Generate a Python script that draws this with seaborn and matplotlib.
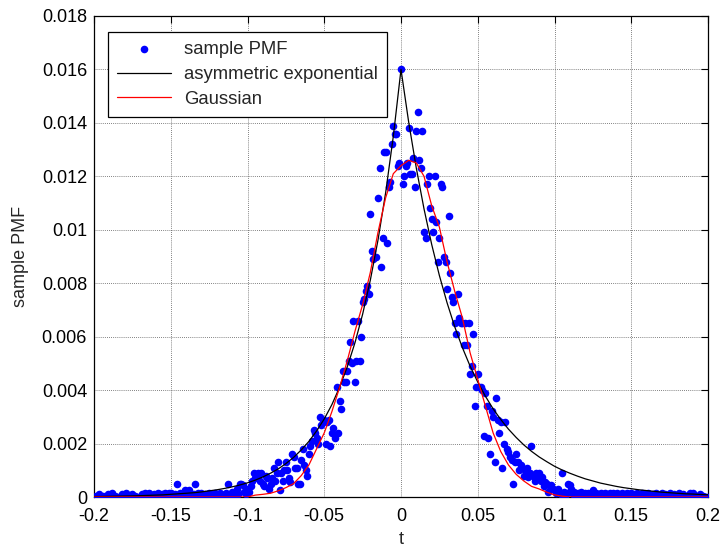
import numpy as np
import pandas as pd
import matplotlib
matplotlib.use("Agg")
import matplotlib.pyplot as plt
import seaborn as sns

# ---------------- data (PMF values in units of 1e-4) ----------------
t_start, t_step, n_pts = -0.200, 0.001, 401

pmf_left_tail = [  # t = -0.200 .. -0.106
    0, 0.5, 0, 1, 0, 0, 0.5, 0, 0, 1,
    0, 0, 1.5, 0, 0.5, 0, 0, 0, 1, 0,
    0.5, 1.5, 0, 0, 0, 1, 0, 0.5, 0, 0,
    0, 1, 0, 1.5, 0, 0.5, 1.5, 0, 0, 1,
    0, 0.5, 1.5, 0, 1, 0, 1.5, 0, 0.5, 1.5,
    1.5, 0.5, 0, 1, 4.9, 0, 1.5, 0.5, 1, 2.6,
    0, 1.5, 2.6, 0.5, 0, 1, 4.9, 0, 1.5, 0.5,
    1.5, 0, 1, 0.5, 0, 1.5, 0, 1, 0, 1.5,
    0.5, 0, 1.5, 1, 0, 0.5, 1.5, 5, 0, 1,
    2, 0.5, 1.5, 3, 1]
pmf_left = [  # t = -0.105 .. -0.051
    5, 5, 4.5, 2, 1, 3, 2, 4, 6, 9,
    7, 8, 9, 6, 9, 5, 4, 8, 7, 3,
    5, 7, 11, 6, 9, 13, 2.6, 9, 6, 10,
    13, 10, 7, 5.6, 16, 15, 11, 11, 5, 5,
    14, 18, 12, 10, 8, 16, 19, 21, 25, 24,
    22, 20, 30, 27, 28]
pmf_center = [  # t = -0.050 .. 0.000
    29, 20, 28, 29, 19, 24, 26, 22, 41, 24,
    36, 33, 47, 43, 43, 47, 51, 58, 50, 66,
    43, 51, 66, 51, 60, 73, 74, 77, 79, 76,
    106, 92, 89, 90, 90, 112, 123, 86, 97, 129,
    129, 95, 116, 118, 132, 139, 136, 136, 124, 125,
    160]
pmf_right = [  # t = 0.001 .. 0.110
    117, 120, 124, 125, 138, 121, 121, 127, 116, 137,
    144, 126, 123, 137, 99, 97, 117, 120, 108, 104,
    99, 120, 103, 88, 97, 117, 116, 90, 88, 78,
    105, 84, 75, 73, 65, 61, 76, 67, 65, 65,
    57, 65, 57, 65, 46, 49, 61, 34, 41, 46,
    41, 41, 40, 23, 39, 34, 22, 16, 32, 30,
    13, 37, 29, 24, 28, 11, 20, 28, 18, 17,
    15, 14, 5, 13, 16, 13, 10, 12, 11, 8,
    10, 11, 7.5, 9, 19, 8, 6, 9, 7, 9,
    6, 7.5, 4, 5.6, 5, 2, 4, 4.5, 3, 2.5,
    1.5, 3, 2, 1, 9, 2, 0, 1.5, 5, 4.5]
pmf_right_tail = [  # t = 0.111 .. 0.200
    3, 1, 2, 0.5, 1.5, 0, 2, 1, 0.5, 1.5,
    0, 1.5, 1, 0, 2.6, 0.5, 1.5, 0, 1, 1.5,
    0.5, 0, 1.5, 1, 0, 1.5, 0.5, 1.5, 0, 1,
    1.5, 0, 0.5, 1.5, 0, 1, 1.5, 0, 0.5, 1.5,
    0, 1, 0, 1.5, 0.5, 0, 1.5, 0, 1, 0,
    1.5, 0, 0.5, 1, 0, 1.5, 0, 0.5, 0, 1.5,
    0, 1, 0, 0.5, 1.5, 0, 0, 1, 0, 0.5,
    1.5, 0, 0, 1, 0, 0.5, 0, 1.5, 0, 1.5,
    0, 0.5, 0, 0, 1, 0, 0.5, 0, 0, 0]

# fitted curves, sampled every 0.005 from -0.2 to 0.2 (units 1e-4)
fit_start, fit_step, n_fit = -0.200, 0.005, 81
asym_exp = [0.18, 0.2, 0.25, 0.3, 0.35, 0.4, 0.5, 0.6, 0.7, 0.8,
            1.0, 1.2, 1.4, 1.6, 1.9, 2.3, 2.7, 3.2, 3.8, 4.5,
            5.3, 6.3, 7.5, 8.9, 10.5, 12.5, 14.8, 17.6, 20.8, 24.7,
            29.2, 34.6, 41.1, 48.7, 57.7, 68.4, 81.1, 96.1, 113.9, 135.0,
            160,
            140.3, 123.0, 107.8, 94.5, 82.9, 72.7, 63.7, 55.9, 49.0, 43.0,
            37.7, 33.0, 29.0, 25.4, 22.3, 19.5, 17.1, 15.0, 13.2, 11.5,
            10.1, 8.9, 7.8, 6.8, 6.0, 5.2, 4.6, 4.0, 3.5, 3.1,
            2.7, 2.4, 2.1, 1.8, 1.6, 1.4, 1.2, 1.1, 0.95, 0.83]
gaussian = [0] * 21 + [0.7, 1.0, 1.4, 2.3, 3.5, 5, 8, 12, 18, 24,
                       32, 41, 51, 62, 72, 84, 99, 112, 121,
                       124,
                       126, 125, 120, 109, 101, 88, 77, 67, 54, 44,
                       34, 24, 17, 12, 8.5, 6, 4, 3, 1.8, 0.8, 0.3] + [0] * 19

x_ticks = [-0.2, -0.15, -0.1, -0.05, 0, 0.05, 0.1, 0.15, 0.2]
x_tick_labels = ["-0.2", "-0.15", "-0.1", "-0.05", "0", "0.05", "0.1", "0.15", "0.2"]
y_ticks = [0, 0.002, 0.004, 0.006, 0.008, 0.01, 0.012, 0.014, 0.016, 0.018]
y_tick_labels = ["0", "0.002", "0.004", "0.006", "0.008", "0.01", "0.012", "0.014", "0.016", "0.018"]

# ---------------- build frames ----------------
pmf_vals = np.array(pmf_left_tail + pmf_left + pmf_center + pmf_right + pmf_right_tail) * 1e-4
t = np.round(t_start + t_step * np.arange(n_pts), 3)
df = pd.DataFrame({"t": t, "pmf": pmf_vals})
tf = np.round(fit_start + fit_step * np.arange(n_fit), 3)
dfit = pd.DataFrame({"t": tf, "asym": np.array(asym_exp) * 1e-4, "gauss": np.array(gaussian) * 1e-4})

# ---------------- plot ----------------
sns.set_style("white")
plt.rcParams["font.family"] = ["Liberation Sans", "DejaVu Sans"]

fig = plt.figure(figsize=(7.21, 5.47), dpi=100)
ax = fig.add_axes([94 / 721, 50 / 547, 614 / 721, 481 / 547])

sns.scatterplot(data=df, x="t", y="pmf", ax=ax, color="#0000ff", s=30,
                linewidth=0, label="sample PMF", zorder=3)
sns.lineplot(data=dfit, x="t", y="asym", ax=ax, color="black", lw=0.9,
             estimator=None, label="asymmetric exponential", zorder=4)
sns.lineplot(data=dfit, x="t", y="gauss", ax=ax, color="red", lw=0.9,
             estimator=None, label="Gaussian", zorder=5)

ax.set_xlim(-0.2, 0.2)
ax.set_ylim(0, 0.018)
ax.set_xticks(x_ticks)
ax.set_xticklabels(x_tick_labels)
ax.set_yticks(y_ticks)
ax.set_yticklabels(y_tick_labels)
ax.tick_params(direction="in", length=5, width=0.8, top=True, right=True,
               labelsize=13, colors="black")
ax.tick_params(axis="x", pad=8)
ax.tick_params(axis="y", pad=5)
ax.grid(True, color="0.35", linestyle=(0, (1, 1.5)), linewidth=0.6)
ax.set_axisbelow(True)
for sp in ax.spines.values():
    sp.set_color("black")
    sp.set_linewidth(0.9)

ax.set_xlabel("t", fontsize=13, labelpad=4)
ax.set_ylabel("sample PMF", fontsize=13, labelpad=9)

leg = ax.legend(loc="upper left", bbox_to_anchor=(14 / 614, 1 - 16 / 481),
                borderaxespad=0, fontsize=13.3, frameon=True, fancybox=False,
                handlelength=2.9, handletextpad=0.7, borderpad=0.5,
                labelspacing=0.42, markerscale=1.0)
leg.get_frame().set_edgecolor("black")
leg.get_frame().set_linewidth(0.9)
leg.get_frame().set_alpha(1)

fig.savefig("out.png", dpi=100, facecolor="white")
